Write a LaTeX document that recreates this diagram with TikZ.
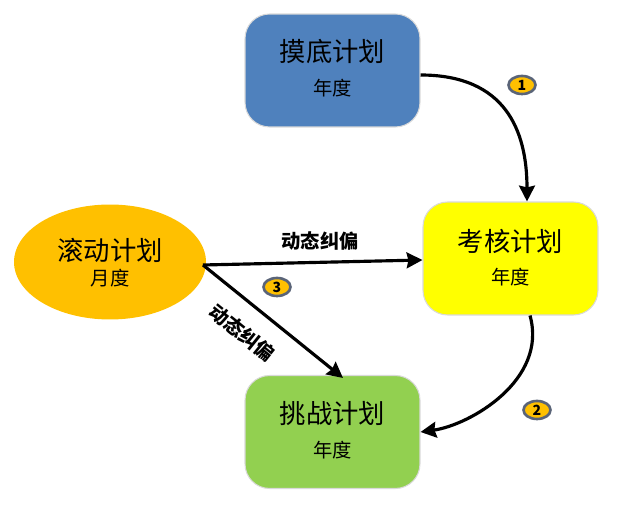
\documentclass[tikz,border=0pt]{standalone}
\usepackage{fontspec}
\newfontfamily\cjk{Noto Sans CJK SC}
\usetikzlibrary{arrows,arrows.meta}
\usetikzlibrary{calc,shapes.geometric}
\definecolor{blaubox}{RGB}{79,129,189}
\definecolor{gelbbox}{RGB}{255,255,0}
\definecolor{gruenbox}{RGB}{146,208,80}
\definecolor{orangebox}{RGB}{255,192,0}
\definecolor{randgrau}{RGB}{90,100,120}

\begin{document}
\begin{tikzpicture}[x=0.02cm, y=-0.02cm, font=\cjk,
    planbox/.style={draw=white!85!black, line width=0.6pt, rounded corners=14pt, minimum width=3.5cm, minimum height=2.26cm, align=center},
    badge/.style={ellipse, draw=randgrau, line width=1.5pt, fill=orangebox, inner sep=0pt, minimum width=0.54cm, minimum height=0.36cm, font=\cjk\bfseries\footnotesize},
    pfeil/.style={line width=1.8pt, -{Stealth[length=9pt, width=9pt, inset=1pt]}},
    titel/.style={font=\cjk\fontsize{15}{18}\selectfont},
    jahr/.style={font=\cjk\fontsize{11}{14}\selectfont},
    korrektur/.style={font=\cjk\bfseries\fontsize{11}{13}\selectfont}]

    \useasboundingbox (0,0) rectangle (619,509);

    \node[planbox, fill=blaubox] (modi) at (332.5,70.5) {};
    \node[planbox, fill=gelbbox] (kaohe) at (510.5,258.5) {};
    \node[planbox, fill=gruenbox] (tiaozhan) at (332.5,432) {};
    \node[ellipse, fill=orangebox, minimum width=3.84cm, minimum height=2.3cm] (gundong) at (110,262) {};

    \node[titel] (modi-t) at (332.5,52) {摸底计划};
    \node[jahr] (modi-j) at (332.5,88) {年度};
    \node[titel] (kaohe-t) at (510.5,241) {考核计划};
    \node[jahr] (kaohe-j) at (510.5,277) {年度};
    \node[titel] (tiaozhan-t) at (332.5,414) {挑战计划};
    \node[jahr] (tiaozhan-j) at (332.5,450) {年度};
    \node[titel] (gundong-t) at (110,250) {滚动计划};
    \node[jahr] (gundong-j) at (110,278) {月度};

    \coordinate (start) at (203,265);

    \draw[pfeil] (modi.east |- 0,75) .. controls (505,75) and (527,130) .. (kaohe.north -| 527,0);
    \draw[pfeil] (kaohe.south -| 530,0) .. controls (548,380) and (470,425) .. (tiaozhan.east |- 0,432);
    \draw[pfeil] (start) -- (kaohe.west |- 0,260);
    \draw[pfeil] (start) -- (343,378);

    \node[korrektur] (label-a) at (320,241) {动态纠偏};
    \node[korrektur, rotate=-39] (label-b) at (242,333) {动态纠偏};

    \node[badge] (b1) at (522,85) {1};
    \node[badge] (b2) at (537,410) {2};
    \node[badge] (b3) at (277,287) {3};

\end{tikzpicture}
\end{document}
